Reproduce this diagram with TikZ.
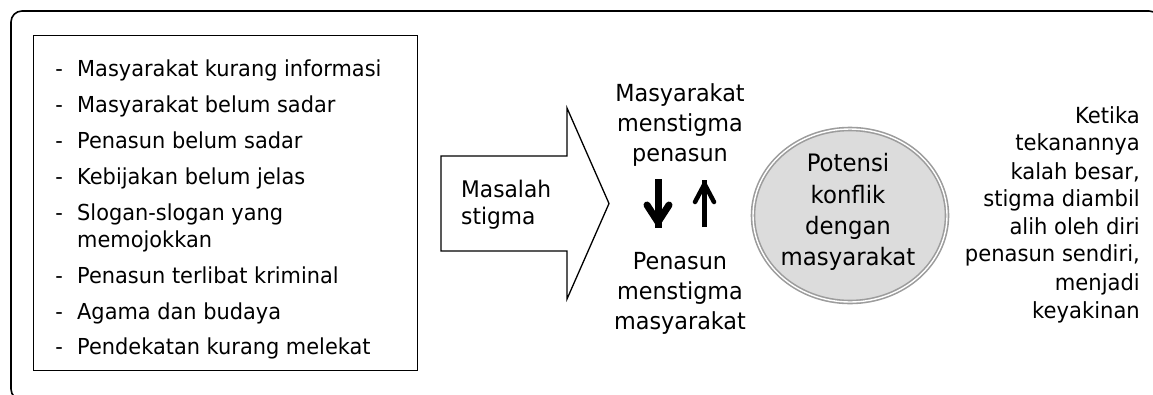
\documentclass[tikz,border=0pt]{standalone}
\usepackage{fontspec}
\setmainfont{DejaVu Sans}[FakeStretch=0.95]
\usetikzlibrary{shapes.geometric}
\definecolor{ringgray}{HTML}{9C9C9C}
\definecolor{fillgray}{HTML}{DCDCDC}
\tikzset{
  frame/.style={line width=1.6pt, rounded corners=11pt},
  boxline/.style={draw, line width=1.3pt, inner sep=0pt},
  listitem/.style={anchor=base west, inner sep=0pt, font=\fontsize{22}{27}\selectfont},
  bullet/.style={anchor=base east, inner sep=0pt, font=\fontsize{22}{27}\selectfont},
  midline/.style={anchor=base, inner sep=0pt, font=\fontsize{23.5}{30}\selectfont},
  ringline/.style={anchor=base, inner sep=0pt, font=\fontsize{24}{31}\selectfont},
  leftline/.style={anchor=base west, inner sep=0pt, font=\fontsize{22.9}{27}\selectfont},
  sideline/.style={anchor=base east, inner sep=0pt, font=\fontsize{22.2}{28}\selectfont},
  ring/.style={ellipse, draw=ringgray, line width=1.6pt, double=white, double distance=1.4pt,
    fill=fillgray, minimum width=194pt, minimum height=173pt, inner sep=0pt},
  thickarrow/.style={line width=7pt, line cap=round, line join=round},
  thinarrow/.style={line width=4.5pt, line cap=round, line join=round}
}
\begin{document}
\begin{tikzpicture}[x=1pt,y=-1pt]
\useasboundingbox (0,0) rectangle (1153,394);

% outer frame, running past the right and bottom edges of the page
\begin{scope}
  \clip (0,0) rectangle (1153,394);
  \draw[frame] (11,11) rectangle (1160,400);
\end{scope}

% list of causes
\node[boxline, anchor=north west, minimum width=384pt, minimum height=335pt] (causes) at (33,35) {};
\foreach \y/\t [count=\i] in {76/Masyarakat kurang informasi,
                              112/Masyarakat belum sadar,
                              148/Penasun belum sadar,
                              184/Kebijakan belum jelas,
                              220/Slogan-slogan yang,
                              283/Penasun terlibat kriminal,
                              319/Agama dan budaya,
                              354/Pendekatan kurang melekat} {
  \node[listitem] (item\i) at (77,\y) {\t};
  \node[bullet] (dash\i) at (63,\y) {-};
}
\node[listitem] (item5b) at (77,247) {memojokkan};

% block arrow
\draw[line width=1.3pt, line join=miter]
  (441,156) -- (567,156) -- (567,108) -- (609,203.5) -- (567,299) -- (567,251) -- (441,251) -- cycle;
\node[leftline] (masalah1) at (461,197) {Masalah};
\node[leftline] (masalah2) at (461,224) {stigma};

% mutual stigma
\node[midline] (top1) at (680,101.5) {Masyarakat};
\node[midline] (top2) at (680,131.5) {menstigma};
\node[midline] (top3) at (680,161.5) {penasun};
\node[midline] (bot1) at (680,269) {Penasun};
\node[midline] (bot2) at (680,299) {menstigma};
\node[midline] (bot3) at (680,329) {masyarakat};

\coordinate (downstart) at (658,179);
\coordinate (downend) at (658,222);
\draw[thickarrow, line cap=butt] (downstart) -- ([yshift=-6pt]downend);
\draw[thickarrow] ([shift={(-11,-17)}]downend) -- (downend) -- ([shift={(11,-17)}]downend);

\coordinate (upstart) at (704.5,227);
\coordinate (upend) at (704.5,184);
\draw[thinarrow, line cap=butt] (upstart) -- ([yshift=4pt]upend);
\draw[thinarrow] ([shift={(-9.5,18)}]upend) -- (upend) -- ([shift={(9.5,18)}]upend);

% conflict potential
\node[ring] (konflik) at (850,215.5) {};
\node[ringline] (k1) at (848,171.5) {Potensi};
\node[ringline] (k2) at (848,203) {konflik};
\node[ringline] (k3) at (848,234) {dengan};
\node[ringline] (k4) at (848,265) {masyarakat};

% internalised stigma
\foreach \y/\t [count=\i] in {123/Ketika,
                              150.7/tekanannya,
                              179/{kalah besar,},
                              206.7/stigma diambil,
                              234/alih oleh diri,
                              261.7/{penasun sendiri,},
                              290/menjadi,
                              318/keyakinan} {
  \node[sideline] (side\i) at (1140,\y) {\t};
}
\end{tikzpicture}
\end{document}
